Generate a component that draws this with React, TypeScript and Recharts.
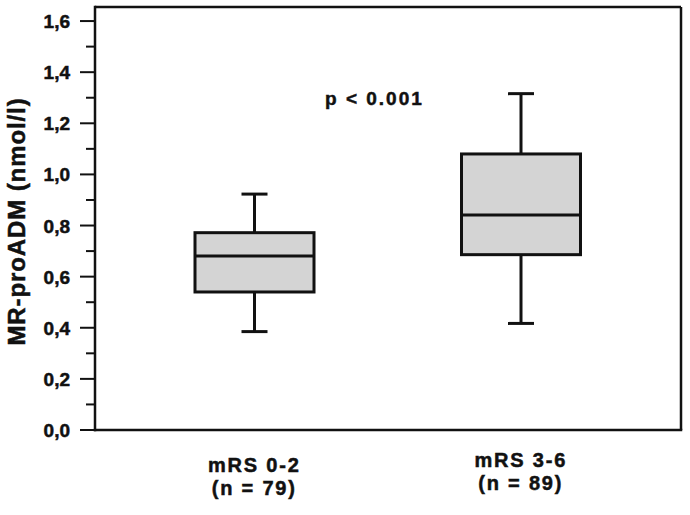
import React from 'react';
import { Bar, CartesianGrid, ComposedChart, XAxis, YAxis } from 'recharts';

// groups and their sizes
const groups = ['mRS 0-2', 'mRS 3-6'];
const groupN = [79, 89];

// box plot statistics, nmol/l
const whiskerLow = [0.385, 0.417];
const quartile1 = [0.54, 0.686];
const median = [0.681, 0.841];
const quartile3 = [0.772, 1.08];
const whiskerHigh = [0.923, 1.316];

const yTicks = [0, 0.1, 0.2, 0.3, 0.4, 0.5, 0.6, 0.7, 0.8, 0.9, 1.0, 1.1, 1.2, 1.3, 1.4, 1.5, 1.6];

const data = groups.map((name, i) => ({
  name,
  n: groupN[i],
  lo: whiskerLow[i],
  q1: quartile1[i],
  med: median[i],
  q3: quartile3[i],
  hi: whiskerHigh[i],
}));

const INK = '#111';
const FONT = '"Liberation Sans", Arial, Helvetica, sans-serif';
// a thin outline makes the bold text as heavy as in the scan
const heavy = { stroke: INK, strokeWidth: 0.5 };

function BoxShape(props: any) {
  const { x, y, width, height, payload } = props;
  const top = Math.min(y, y + height);
  const bottom = Math.max(y, y + height);
  const { lo, hi } = payload;
  const py = (v: number) => bottom - ((v - lo) / (hi - lo)) * (bottom - top);
  const cx = x + width / 2;
  const cap = 13;
  return (
    <g stroke={INK} strokeWidth={3}>
      <line x1={cx} x2={cx} y1={py(hi)} y2={py(payload.q3)} />
      <line x1={cx} x2={cx} y1={py(payload.q1)} y2={py(lo)} />
      <line x1={cx - cap} x2={cx + cap} y1={py(hi)} y2={py(hi)} />
      <line x1={cx - cap} x2={cx + cap} y1={py(lo)} y2={py(lo)} />
      <rect
        x={x}
        y={py(payload.q3)}
        width={width}
        height={py(payload.q1) - py(payload.q3)}
        fill="#d4d4d4"
      />
      <line x1={x} x2={x + width} y1={py(payload.med)} y2={py(payload.med)} />
    </g>
  );
}

function YTick(props: any) {
  const { x, y, payload } = props;
  const v = payload.value as number;
  const major = Math.round(v * 10) % 2 === 0;
  return (
    <g>
      <line x1={x - (major ? 15 : 9)} x2={x} y1={y} y2={y} stroke={INK} strokeWidth={2} />
      {major && (
        <text
          x={x - 25}
          y={y}
          dy={7}
          textAnchor="end"
          fontFamily={FONT}
          fontWeight="bold"
          fontSize={19}
          fill={INK}
          {...heavy}
        >
          {v.toFixed(1).replace('.', ',')}
        </text>
      )}
    </g>
  );
}

// the second group's label sits a little higher in the original
const labelShift = [0, -5];

function XTick(props: any) {
  const { x, y, payload, index } = props;
  const i = groups.indexOf(payload.value);
  const shift = labelShift[index] ?? 0;
  return (
    <text
      x={x}
      y={y}
      textAnchor="middle"
      fontFamily={FONT}
      fontWeight="bold"
      fontSize={20}
      letterSpacing={1.8}
      fill={INK}
      {...heavy}
    >
      <tspan x={x} y={y + 42 + shift}>
        {payload.value}
      </tspan>
      <tspan x={x} y={y + 65 + shift}>
        {`(n = ${groupN[i]})`}
      </tspan>
    </text>
  );
}

function YTitle(props: any) {
  const { viewBox } = props;
  const cx = viewBox.x + 25;
  const cy = viewBox.y + viewBox.height / 2 + 3;
  return (
    <text
      x={cx}
      y={cy}
      transform={`rotate(-90, ${cx}, ${cy})`}
      textAnchor="middle"
      fontFamily={FONT}
      fontWeight="bold"
      fontSize={24}
      letterSpacing={0.9}
      fill={INK}
      {...heavy}
    >
      MR-proADM (nmol/l)
    </text>
  );
}

const axisLine = { stroke: INK, strokeWidth: 2.5, strokeLinecap: 'square' as const };
const yDomain: [number, number] = [0, 1.655];
const xPadding = { left: 26, right: 27 };

export default function App() {
  return (
    <div style={{ position: 'absolute', left: 0, top: 0, width: 690, height: 515, background: '#fff' }}>
      <ComposedChart
        width={690}
        height={515}
        data={data}
        margin={{ top: 7, right: 9, bottom: 0, left: 0 }}
      >
        {/* top and right edges of the frame */}
        <CartesianGrid
          stroke={INK}
          strokeWidth={2.5}
          strokeDasharray=""
          horizontalCoordinatesGenerator={({ offset }: any) => [offset.top]}
          verticalCoordinatesGenerator={({ offset }: any) => [offset.left + offset.width]}
        />
        <XAxis
          dataKey="name"
          height={85}
          padding={xPadding}
          axisLine={axisLine}
          tickLine={false}
          tickSize={0}
          tickMargin={0}
          tick={<XTick />}
          interval={0}
        />
        <YAxis
          type="number"
          width={95}
          domain={yDomain}
          ticks={yTicks}
          interval={0}
          allowDataOverflow
          axisLine={axisLine}
          tickLine={false}
          tickSize={0}
          tickMargin={0}
          tick={<YTick />}
          label={<YTitle />}
        />
        <Bar
          dataKey={(d: any) => [d.lo, d.hi]}
          barSize={119}
          shape={<BoxShape />}
          isAnimationActive={false}
        />
      </ComposedChart>
      <div
        style={{
          position: 'absolute',
          left: 325,
          top: 88,
          fontFamily: FONT,
          fontWeight: 'bold',
          fontSize: 19,
          letterSpacing: 2,
          color: INK,
          whiteSpace: 'nowrap',
          WebkitTextStroke: '0.5px #111',
        }}
      >
        p &lt; 0.001
      </div>
    </div>
  );
}
